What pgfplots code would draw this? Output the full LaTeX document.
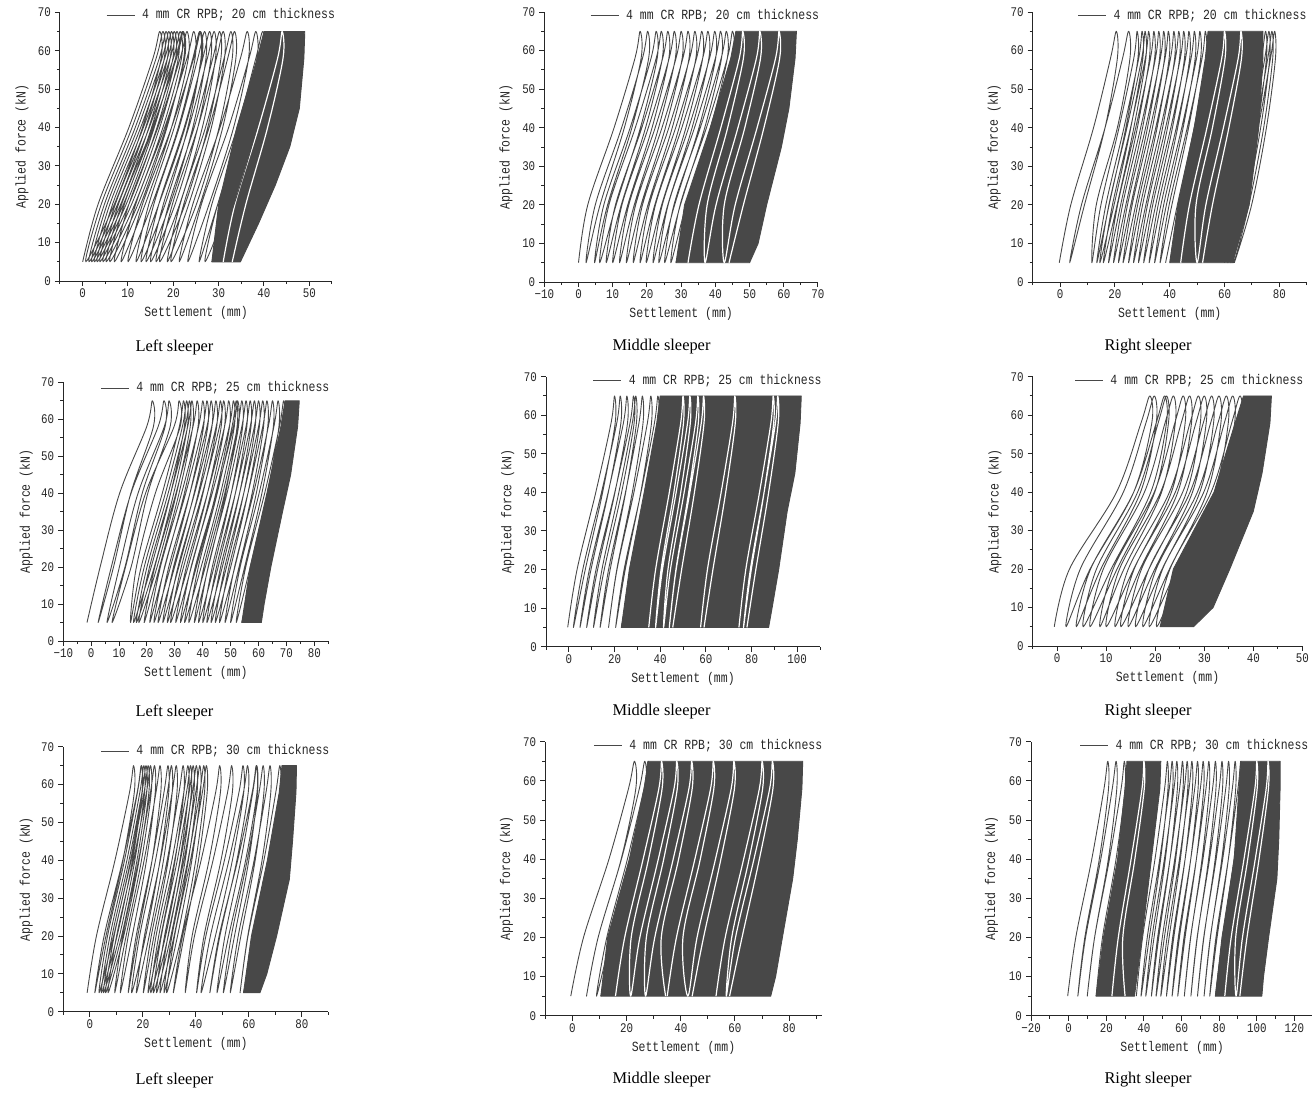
\documentclass[border=0pt]{standalone}
\usepackage{pgfplots}
\pgfplotsset{compat=1.18}
\usepackage{fontspec}
\setmainfont{Liberation Serif}
\newfontfamily\cnfont[FakeStretch=0.82]{Liberation Mono}
\newcommand\lblfont{\cnfont\fontsize{7}{8}\selectfont}
\newcommand\tckfont{\cnfont\fontsize{6.6}{7.5}\selectfont}
\newcommand\capfont{\fontsize{8.2}{9}\selectfont}
\definecolor{lc}{RGB}{72,72,72}
\pgfplotsset{
 panel/.style={
  scale only axis, anchor=south west,
  ymin=0, ymax=70,
  axis x line*=bottom, axis y line*=left,
  axis line style={-, line width=0.5pt, black!85},
  tick align=outside,
  major tick length=2.5pt, minor tick length=1.5pt,
  tick style={black!85, line width=0.5pt},
  ytick={0,10,20,30,40,50,60,70}, yticklabels={0,10,20,30,40,50,60,70},
  minor ytick={5,15,25,35,45,55,65},
  tick label style={font=\tckfont, text=black!85},
  xticklabel style={yshift=2pt},
  yticklabel style={xshift=1.5pt},
  label style={font=\lblfont, text=black!85},
  xlabel={Settlement (mm)}, ylabel={Applied force (kN)},
  xlabel style={at={(axis description cs:0.5,0)}, anchor=center, yshift=-16pt},
  ylabel style={at={(axis description cs:-0.14,0.5)}, anchor=center},
  legend style={draw=none, fill=none, font=\lblfont, text=black!85, anchor=east, inner sep=0pt, outer sep=0pt, nodes={inner sep=0pt}, column sep=3.5pt},
  legend image code/.code={\draw[#1] (0pt,0pt) -- (14pt,0pt);},
  legend cell align=left,
 },
 lp/.style={lc, line width=0.45pt, smooth, tension=0.55, line join=round, forget plot},
 wp/.style={white, line width=0.6pt, smooth, tension=0.55, line join=round, forget plot},
 band/.style={fill=lc, draw=lc, line width=0.45pt, line join=round, forget plot},
}
\begin{document}
\begin{tikzpicture}
\useasboundingbox (0,0) rectangle (656pt,-546.5pt);

% ---------- Row 1, left ----------
\begin{axis}[panel, at={(30pt,-140.5pt)}, width=136pt, height=134.35pt, xmin=-5, xmax=55,
 xtick={0,10,20,30,40,50}, xticklabels={0,10,20,30,40,50}, minor xtick={-5,5,15,25,35,45,55},
 legend style={at={(1.011,0.989)}}]
\addlegendimage{lc, line width=0.45pt}
\addlegendentry{4 mm CR RPB; 20 cm thickness}
\addplot[band] coordinates {(28.5,5)(30,20)(34,40)(38.5,58)(40,65)(49,65)(48.8,58)(47.8,45)(45.7,35)(42.5,25)(38.8,15)(36.8,10)(34.8,5)} --cycle;
\addplot[wp] coordinates {(31,5)(33.6,20)(38.8,40)(43,58)(44,65)(44.2,58)(40.8,40)(36,20)(33,5)};
\addplot[lp] coordinates {
(0,5)(3.4,20)(10.2,40)(15.5,58)(17,65)(17.3,58)(13.2,40)(7,20)
(0.7,5)(4.1,20)(10.9,40)(16.2,58)(17.7,65)(18,58)(13.9,40)(7.7,20)
(1.4,5)(4.8,20)(11.6,40)(16.9,58)(18.4,65)(18.7,58)(14.6,40)(8.4,20)
(2,5)(5.4,20)(12.2,40)(17.5,58)(19,65)(19.3,58)(15.2,40)(9,20)
(2.6,5)(6,20)(12.8,40)(18.1,58)(19.6,65)(19.9,58)(15.8,40)(9.6,20)
(3.2,5)(6.6,20)(13.4,40)(18.7,58)(20.2,65)(20.5,58)(16.4,40)(10.2,20)
(3.8,5)(7.2,20)(14,40)(19.3,58)(20.8,65)(21.1,58)(17,40)(10.8,20)
(4.5,5)(7.9,20)(14.7,40)(20,58)(21.5,65)(21.8,58)(17.7,40)(11.5,20)
(5.2,5)(8.6,20)(15.4,40)(20.7,58)(22.2,65)(22.5,58)(18.4,40)(12.2,20)
(6,5)(9.2,20)(15.6,40)(20.5,58)(22,65)(22.3,58)(18.6,40)(12.8,20)
(7,5)(10.2,20)(16.6,40)(21.5,58)(23,65)(23.3,58)(19.6,40)(13.8,20)
(8.5,5)(11.7,20)(18.1,40)(23,58)(24.5,65)(24.8,58)(21.1,40)(15.3,20)
(10,5)(13.2,20)(19.6,40)(24.5,58)(26,65)(26.3,58)(22.6,40)(16.8,20)
(11.8,5)(14.6,20)(20.2,40)(24.3,58)(25.8,65)(26.1,58)(23.2,40)(18.2,20)
(12.9,5)(15.7,20)(21.3,40)(25.4,58)(26.9,65)(27.2,58)(24.3,40)(19.3,20)
(14,5)(16.8,20)(22.4,40)(26.5,58)(28,65)(28.3,58)(25.4,40)(20.4,20)
(15,5)(17.8,20)(23.4,40)(27.5,58)(29,65)(29.3,58)(26.4,40)(21.4,20)
(16.2,5)(19,20)(24.6,40)(28.7,58)(30.2,65)(30.5,58)(27.6,40)(22.6,20)
(17,5)(19.8,20)(25.4,40)(29.5,58)(31,65)(31.3,58)(28.4,40)(23.4,20)
(18.7,5)(21.5,20)(27.1,40)(31.2,58)(32.7,65)(33,58)(30.1,40)(25.1,20)
(19.5,5)(22.3,20)(27.9,40)(32,58)(33.5,65)(33.8,58)(30.9,40)(25.9,20)
(21.3,5)(24.3,20)(30.3,40)(34.8,58)(36.3,65)(36.6,58)(33.3,40)(27.9,20)
(23.2,5)(26.2,20)(32.2,40)(36.7,58)(38.2,65)(38.5,58)(35.2,40)(29.8,20)
(25.7,5)(28.5,20)(34.1,40)(38.2,58)(39.7,65)(40,58)(37.1,40)(32.1,20)
(27,5)(29.8,20)(35.4,40)(39.5,58)(41,65)(41.3,58)(38.4,40)(33.4,20)
(28.5,5)};
\end{axis}

% ---------- Row 1, middle ----------
\begin{axis}[panel, at={(272.15pt,-141pt)}, width=136.85pt, height=135pt, xmin=-10, xmax=70,
 xtick={-10,0,10,20,30,40,50,60,70}, xticklabels={−10,0,10,20,30,40,50,60,70}, minor xtick={-5,5,15,25,35,45,55,65},
 legend style={at={(1.004,0.986)}}]
\addlegendimage{lc, line width=0.45pt}
\addlegendentry{4 mm CR RPB; 20 cm thickness}
\addplot[band] coordinates {(28.5,5)(31,20)(38.5,40)(44.5,58)(46,65)(63.7,65)(63.3,58)(61.5,45)(59.3,35)(55,20)(52.5,10)(50,5)} --cycle;
\addplot[wp] coordinates {
(32,5)(35.2,20)(41.6,40)(47,58)(48,65)(48.2,58)(43.6,40)(37.6,20)
(37,5)(40.2,20)(46.6,40)(52,58)(53,65)(53.2,58)(48.6,40)(42.6,20)
(42.6,5)(45.8,20)(52.2,40)(57.6,58)(58.6,65)(58.8,58)(54.2,40)(48.2,20)
(44,5)};
\addplot[lp] coordinates {
(0,5)(2.7,20)(10.4,40)(16.5,58)(18,65)(18.3,58)(13.4,40)(6.3,20)
(2.2,5)(4.9,20)(12.6,40)(18.7,58)(20.2,65)(20.5,58)(15.6,40)(8.5,20)
(4.7,5)(7.4,20)(15.1,40)(21.2,58)(22.7,65)(23,58)(18.1,40)(11,20)
(6.2,5)(8.9,20)(16.6,40)(22.7,58)(24.2,65)(24.5,58)(19.6,40)(12.5,20)
(8.1,5)(10.8,20)(18.5,40)(24.6,58)(26.1,65)(26.4,58)(21.5,40)(14.4,20)
(10,5)(12.7,20)(20.4,40)(26.5,58)(28,65)(28.3,58)(23.4,40)(16.3,20)
(12,5)(14.7,20)(22.4,40)(28.5,58)(30,65)(30.3,58)(25.4,40)(18.3,20)
(14,5)(16.7,20)(24.4,40)(30.5,58)(32,65)(32.3,58)(27.4,40)(20.3,20)
(16,5)(18.7,20)(26.4,40)(32.5,58)(34,65)(34.3,58)(29.4,40)(22.3,20)
(18,5)(20.7,20)(28.4,40)(34.5,58)(36,65)(36.3,58)(31.4,40)(24.3,20)
(19.8,5)(22.5,20)(30.2,40)(36.3,58)(37.8,65)(38.1,58)(33.2,40)(26.1,20)
(21.8,5)(24.5,20)(32.2,40)(38.3,58)(39.8,65)(40.1,58)(35.2,40)(28.1,20)
(23.5,5)(26.2,20)(33.9,40)(40,58)(41.5,65)(41.8,58)(36.9,40)(29.8,20)
(25.2,5)(27.9,20)(35.6,40)(41.7,58)(43.2,65)(43.5,58)(38.6,40)(31.5,20)
(27,5)(29.7,20)(37.4,40)(43.5,58)(45,65)(45.3,58)(40.4,40)(33.3,20)
(28.5,5)};
\end{axis}

% ---------- Row 1, right ----------
\begin{axis}[panel, at={(516.35pt,-141pt)}, width=137pt, height=135pt, xmin=-10, xmax=90,
 xtick={0,20,40,60,80}, xticklabels={0,20,40,60,80}, minor xtick={-10,10,30,50,70,90},
 legend style={at={(0.999,0.986)}}]
\addlegendimage{lc, line width=0.45pt}
\addlegendentry{4 mm CR RPB; 20 cm thickness}
\addplot[band] coordinates {(40,5)(43,20)(49,40)(53,58)(54,65)(74,65)(74,58)(72.5,40)(69,20)(63,5)} --cycle;
\addplot[wp] coordinates {
(44,5)(47.2,20)(53.6,40)(59,58)(60,65)(60.2,58)(55.6,40)(49.6,20)
(50,5)(53.2,20)(59.6,40)(65,58)(66,65)(66.2,58)(61.6,40)(55.6,20)
(52,5)};
\addplot[lp] coordinates {
(-0.3,5)(3.9,20)(12.2,40)(18.4,58)(20.5,65)(20.9,58)(16.4,40)(8.9,20)
(3.5,5)(7.8,20)(16.4,40)(22.8,58)(25,65)(25.5,58)(20.9,40)(13.2,20)
(11.6,5)(14.9,20)(21.5,40)(26.9,58)(28.1,65)(28.4,58)(24,40)(17.9,20)
(13.4,5)(16.7,20)(23.3,40)(28.7,58)(29.9,65)(30.2,58)(25.8,40)(19.7,20)
(14.5,5)(17.8,20)(24.4,40)(29.8,58)(31,65)(31.3,58)(26.9,40)(20.8,20)
(15.8,5)(19.1,20)(25.7,40)(31.1,58)(32.3,65)(32.6,58)(28.2,40)(22.1,20)
(17.7,5)(21,20)(27.6,40)(33,58)(34.2,65)(34.5,58)(30.1,40)(24,20)
(19.5,5)(22.8,20)(29.4,40)(34.8,58)(36,65)(36.3,58)(31.9,40)(25.8,20)
(21.3,5)(24.6,20)(31.2,40)(36.6,58)(37.8,65)(38.1,58)(33.7,40)(27.6,20)
(23,5)(26.3,20)(32.9,40)(38.3,58)(39.5,65)(39.8,58)(35.4,40)(29.3,20)
(25,5)(28.3,20)(34.9,40)(40.3,58)(41.5,65)(41.8,58)(37.4,40)(31.3,20)
(26.8,5)(30.1,20)(36.7,40)(42.1,58)(43.3,65)(43.6,58)(39.2,40)(33.1,20)
(28.6,5)(31.9,20)(38.5,40)(43.9,58)(45.1,65)(45.4,58)(41,40)(34.9,20)
(30.5,5)(33.8,20)(40.4,40)(45.8,58)(47,65)(47.3,58)(42.9,40)(36.8,20)
(32.5,5)(35.8,20)(42.4,40)(47.8,58)(49,65)(49.3,58)(44.9,40)(38.8,20)
(34.5,5)(37.8,20)(44.4,40)(49.8,58)(51,65)(51.3,58)(46.9,40)(40.8,20)
(36.5,5)(39.8,20)(46.4,40)(51.8,58)(53,65)(53.3,58)(48.9,40)(42.8,20)
(38.5,5)};
\addplot[lp] coordinates {
(60,5)(63,20)(69,40)(73.5,58)(75,65)(75.3,58)(72,40)(66.6,20)
(61.2,5)(64.2,20)(70.2,40)(74.7,58)(76.2,65)(76.5,58)(73.2,40)(67.8,20)
(62.3,5)(65.3,20)(71.3,40)(75.8,58)(77.3,65)(77.6,58)(74.3,40)(68.9,20)
(63.3,5)(66.3,20)(72.3,40)(76.8,58)(78.3,65)(78.6,58)(75.3,40)(69.9,20)
(63.6,5)};
\end{axis}

% ---------- Row 2, left ----------
\begin{axis}[panel, at={(31.65pt,-320.5pt)}, width=132.5pt, height=129.35pt, xmin=-10, xmax=85,
 xtick={-10,0,10,20,30,40,50,60,70,80}, xticklabels={−10,0,10,20,30,40,50,60,70,80}, minor xtick={-5,5,15,25,35,45,55,65,75,85},
 legend style={at={(1.004,0.978)}}]
\addlegendimage{lc, line width=0.45pt}
\addlegendentry{4 mm CR RPB; 25 cm thickness}
\addplot[band] coordinates {(54,5)(57,20)(63,40)(68,58)(69.5,65)(74.6,65)(74,58)(71.5,45)(68.6,35)(64.4,20)(62,10)(61,5)} --cycle;
\addplot[lp] coordinates {
(-1.5,5)(3.2,20)(10.2,40)(19.9,58)(21.9,65)(22.3,58)(14.2,40)(8,20)
(2.5,5)(7.2,20)(14.3,40)(24,58)(26.1,65)(26.5,58)(18.3,40)(12.1,20)
(5.7,5)(10.1,20)(16.8,40)(26.2,58)(27.9,65)(28.3,58)(20.3,40)(14.3,20)
(7.5,5)(12.3,20)(19.5,40)(29.7,58)(31.5,65)(31.9,58)(23,40)(16.2,20)
(14.1,5)(17.9,20)(25.5,40)(31.6,58)(33.1,65)(33.4,58)(28.5,40)(21.5,20)
(15.2,5)(19,20)(26.6,40)(32.7,58)(34.2,65)(34.5,58)(29.6,40)(22.6,20)
(16.2,5)(20,20)(27.6,40)(33.7,58)(35.2,65)(35.5,58)(30.6,40)(23.6,20)
(17.1,5)(20.9,20)(28.5,40)(34.6,58)(36.1,65)(36.4,58)(31.5,40)(24.5,20)
(19,5)(22.8,20)(30.4,40)(36.5,58)(38,65)(38.3,58)(33.4,40)(26.4,20)
(21,5)(24.8,20)(32.4,40)(38.5,58)(40,65)(40.3,58)(35.4,40)(28.4,20)
(22.5,5)(26.3,20)(33.9,40)(40,58)(41.5,65)(41.8,58)(36.9,40)(29.9,20)
(24,5)(27.8,20)(35.4,40)(41.5,58)(43,65)(43.3,58)(38.4,40)(31.4,20)
(25.7,5)(29.5,20)(37.1,40)(43.2,58)(44.7,65)(45,58)(40.1,40)(33.1,20)
(27.3,5)(31.1,20)(38.7,40)(44.8,58)(46.3,65)(46.6,58)(41.7,40)(34.7,20)
(28.5,5)(32.3,20)(39.9,40)(46,58)(47.5,65)(47.8,58)(42.9,40)(35.9,20)
(30.3,5)(34.1,20)(41.7,40)(47.8,58)(49.3,65)(49.6,58)(44.7,40)(37.7,20)
(32,5)(35.8,20)(43.4,40)(49.5,58)(51,65)(51.3,58)(46.4,40)(39.4,20)
(33.5,5)(37.3,20)(44.9,40)(51,58)(52.5,65)(52.8,58)(47.9,40)(40.9,20)
(35,5)(38.4,20)(45.2,40)(50.5,58)(52,65)(52.3,58)(48.2,40)(42,20)
(37,5)(40.4,20)(47.2,40)(52.5,58)(54,65)(54.3,58)(50.2,40)(44,20)
(38.5,5)(41.9,20)(48.7,40)(54,58)(55.5,65)(55.8,58)(51.7,40)(45.5,20)
(40,5)(43.4,20)(50.2,40)(55.5,58)(57,65)(57.3,58)(53.2,40)(47,20)
(41.5,5)(44.9,20)(51.7,40)(57,58)(58.5,65)(58.8,58)(54.7,40)(48.5,20)
(43,5)(46.4,20)(53.2,40)(58.5,58)(60,65)(60.3,58)(56.2,40)(50,20)
(44.5,5)(47.9,20)(54.7,40)(60,58)(61.5,65)(61.8,58)(57.7,40)(51.5,20)
(46,5)(49.4,20)(56.2,40)(61.5,58)(63,65)(63.3,58)(59.2,40)(53,20)
(48,5)(51.4,20)(58.2,40)(63.5,58)(65,65)(65.3,58)(61.2,40)(55,20)
(50,5)(53.4,20)(60.2,40)(65.5,58)(67,65)(67.3,58)(63.2,40)(57,20)
(52,5)(55.4,20)(62.2,40)(67.5,58)(69,65)(69.3,58)(65.2,40)(59,20)
(54,5)};
\end{axis}

% ---------- Row 2, middle ----------
\begin{axis}[panel, at={(273pt,-323.35pt)}, width=137pt, height=135pt, xmin=-10, xmax=110,
 xtick={0,20,40,60,80,100}, xticklabels={0,20,40,60,80,100}, minor xtick={-10,10,30,50,70,90,110},
 legend style={at={(1.006,0.985)}}]
\addlegendimage{lc, line width=0.45pt}
\addlegendentry{4 mm CR RPB; 25 cm thickness}
\addplot[band] coordinates {(23,5)(26.5,20)(33,40)(38.5,58)(40,65)(101.8,65)(101.3,58)(99,45)(95.6,35)(91.9,20)(89,10)(87.5,5)} --cycle;
\addplot[wp] coordinates {
(35,5)(38,20)(44,40)(49,58)(50,65)(50.2,58)(46,40)(40.4,20)
(38,5)(41,20)(47,40)(52,58)(53,65)(53.2,58)(49,40)(43.4,20)
(41.5,5)(44.5,20)(50.5,40)(55.5,58)(56.5,65)(56.7,58)(52.5,40)(46.9,20)
(44,5)(47,20)(53,40)(58,58)(59,65)(59.2,58)(55,40)(49.4,20)
(45.5,5)};
\addplot[wp] coordinates {(57.7,5)(60.7,20)(66.7,40)(71.7,58)(72.7,65)(72.9,58)(68.7,40)(63.1,20)(59.2,5)};
\addplot[wp] coordinates {
(74.5,5)(77.5,20)(83.5,40)(88.5,58)(89.5,65)(89.7,58)(85.5,40)(79.9,20)
(76.5,5)(79.5,20)(85.5,40)(90.5,58)(91.5,65)(91.7,58)(87.5,40)(81.9,20)
(78,5)};
\addplot[lp] coordinates {
(-0.5,5)(3.6,20)(11.8,40)(18.5,58)(20,65)(20.3,58)(14.8,40)(7.2,20)
(2,5)(6.1,20)(14.3,40)(21,58)(22.5,65)(22.8,58)(17.3,40)(9.7,20)
(4.9,5)(9,20)(17.2,40)(23.9,58)(25.4,65)(25.7,58)(20.2,40)(12.6,20)
(7.8,5)(11.9,20)(20.1,40)(26.8,58)(28.3,65)(28.6,58)(23.1,40)(15.5,20)
(10.8,5)(14.5,20)(21.9,40)(27.8,58)(29.3,65)(29.6,58)(24.9,40)(18.1,20)
(13.7,5)(17.4,20)(24.8,40)(30.7,58)(32.2,65)(32.5,58)(27.8,40)(21,20)
(17.4,5)(21.1,20)(28.5,40)(34.4,58)(35.9,65)(36.2,58)(31.5,40)(24.7,20)
(20.5,5)(24.2,20)(31.6,40)(37.5,58)(39,65)(39.3,58)(34.6,40)(27.8,20)
(23,5)};
\end{axis}

% ---------- Row 2, right ----------
\begin{axis}[panel, at={(516.35pt,-323pt)}, width=134.8pt, height=134.65pt, xmin=-5, xmax=50,
 xtick={0,10,20,30,40,50}, xticklabels={0,10,20,30,40,50}, minor xtick={-5,5,15,25,35,45},
 legend style={at={(1.004,0.985)}}]
\addlegendimage{lc, line width=0.45pt}
\addlegendentry{4 mm CR RPB; 25 cm thickness}
\addplot[band] coordinates {(21,5)(23.7,20)(32,40)(36.3,58)(38,65)(43.7,65)(43.4,58)(41.8,45)(40,35)(35.2,20)(31.8,10)(27.8,5)} --cycle;
\addplot[lp] coordinates {
(-0.6,5)(2.5,20)(12.1,40)(17.1,58)(18.9,65)(19.3,58)(15.6,40)(6.7,20)
(1.8,5)(4.7,20)(13.5,40)(18.1,58)(19.8,65)(20.2,58)(17,40)(8.9,20)
(3.9,5)(6.8,20)(15.6,40)(20.2,58)(21.9,65)(22.3,58)(19.1,40)(11,20)
(5.3,5)(8,20)(16.4,40)(20.6,58)(22.3,65)(22.7,58)(19.9,40)(12.2,20)
(6.7,5)(9.4,20)(17.8,40)(22,58)(23.7,65)(24.1,58)(21.3,40)(13.6,20)
(8.7,5)(11.4,20)(19.8,40)(24,58)(25.7,65)(26.1,58)(23.3,40)(15.6,20)
(10,5)(12.7,20)(21.1,40)(25.3,58)(27,65)(27.4,58)(24.6,40)(16.9,20)
(11.8,5)(14.5,20)(22.9,40)(27.1,58)(28.8,65)(29.2,58)(26.4,40)(18.7,20)
(13,5)(15.7,20)(24.1,40)(28.3,58)(30,65)(30.4,58)(27.6,40)(19.9,20)
(14.5,5)(17.2,20)(25.6,40)(29.8,58)(31.5,65)(31.9,58)(29.1,40)(21.4,20)
(16,5)(18.7,20)(27.1,40)(31.3,58)(33,65)(33.4,58)(30.6,40)(22.9,20)
(17.5,5)(20.2,20)(28.6,40)(32.8,58)(34.5,65)(34.9,58)(32.1,40)(24.4,20)
(18.8,5)(21.5,20)(29.9,40)(34.1,58)(35.8,65)(36.2,58)(33.4,40)(25.7,20)
(20.3,5)(23,20)(31.4,40)(35.6,58)(37.3,65)(37.7,58)(34.9,40)(27.2,20)
(21,5)};
\end{axis}

% ---------- Row 3, left ----------
\begin{axis}[panel, at={(31.65pt,-505.85pt)}, width=132.5pt, height=132.5pt, xmin=-10, xmax=90,
 xtick={0,20,40,60,80}, xticklabels={0,20,40,60,80}, minor xtick={-10,10,30,50,70,90},
 legend style={at={(1.004,0.983)}}]
\addlegendimage{lc, line width=0.45pt}
\addlegendentry{4 mm CR RPB; 30 cm thickness}
\addplot[band] coordinates {(58,5)(61,20)(67,40)(71.5,58)(72.5,65)(78,65)(77.8,58)(76.5,45)(75.3,35)(70.5,20)(66.8,10)(64.2,5)} --cycle;
\addplot[lp] coordinates {
(-1,5)(2.5,20)(9.5,40)(15,58)(16.5,65)(16.8,58)(12.5,40)(6.1,20)
(1.9,5)(5.4,20)(12.4,40)(17.9,58)(19.4,65)(19.7,58)(15.4,40)(9,20)
(3.5,5)(6.7,20)(13.1,40)(18,58)(19.5,65)(19.8,58)(16.1,40)(10.3,20)
(4.4,5)(7.6,20)(14,40)(18.9,58)(20.4,65)(20.7,58)(17,40)(11.2,20)
(5.2,5)(8.4,20)(14.8,40)(19.7,58)(21.2,65)(21.5,58)(17.8,40)(12,20)
(6,5)(9.2,20)(15.6,40)(20.5,58)(22,65)(22.3,58)(18.6,40)(12.8,20)
(6.9,5)(10.1,20)(16.5,40)(21.4,58)(22.9,65)(23.2,58)(19.5,40)(13.7,20)
(9.4,5)(12.4,20)(18.4,40)(22.9,58)(24.4,65)(24.7,58)(21.4,40)(16,20)
(11.5,5)(14.5,20)(20.5,40)(25,58)(26.5,65)(26.8,58)(23.5,40)(18.1,20)
(14.5,5)(17.5,20)(23.5,40)(28,58)(29.5,65)(29.8,58)(26.5,40)(21.1,20)
(15.8,5)(18.8,20)(24.8,40)(29.3,58)(30.8,65)(31.1,58)(27.8,40)(22.4,20)
(17.6,5)(20.6,20)(26.6,40)(31.1,58)(32.6,65)(32.9,58)(29.6,40)(24.2,20)
(20.2,5)(23.2,20)(29.2,40)(33.7,58)(35.2,65)(35.5,58)(32.2,40)(26.8,20)
(22,5)(25,20)(31,40)(35.5,58)(37,65)(37.3,58)(34,40)(28.6,20)
(23,5)(26,20)(32,40)(36.5,58)(38,65)(38.3,58)(35,40)(29.6,20)
(24,5)(27,20)(33,40)(37.5,58)(39,65)(39.3,58)(36,40)(30.6,20)
(25.2,5)(28.2,20)(34.2,40)(38.7,58)(40.2,65)(40.5,58)(37.2,40)(31.8,20)
(26.5,5)(29.5,20)(35.5,40)(40,58)(41.5,65)(41.8,58)(38.5,40)(33.1,20)
(28,5)(31,20)(37,40)(41.5,58)(43,65)(43.3,58)(40,40)(34.6,20)
(29,5)(32,20)(38,40)(42.5,58)(44,65)(44.3,58)(41,40)(35.6,20)
(31.5,5)(35,20)(42,40)(47.5,58)(49,65)(49.3,58)(45,40)(38.6,20)
(36,5)(39.5,20)(46.5,40)(52,58)(53.5,65)(53.8,58)(49.5,40)(43.1,20)
(40.3,5)(43.8,20)(50.8,40)(56.3,58)(57.8,65)(58.1,58)(53.8,40)(47.4,20)
(42,5)(45.5,20)(52.5,40)(58,58)(59.5,65)(59.8,58)(55.5,40)(49.1,20)
(45.3,5)(48.8,20)(55.8,40)(61.3,58)(62.8,65)(63.1,58)(58.8,40)(52.4,20)
(48,5)(51,20)(57,40)(61.5,58)(63,65)(63.3,58)(60,40)(54.6,20)
(50.4,5)(53.4,20)(59.4,40)(63.9,58)(65.4,65)(65.7,58)(62.4,40)(57,20)
(53,5)(56,20)(62,40)(66.5,58)(68,65)(68.3,58)(65,40)(59.6,20)
(56.7,5)(59.7,20)(65.7,40)(70.2,58)(71.7,65)(72,58)(68.7,40)(63.3,20)
(58,5)};
\end{axis}

% ---------- Row 3, middle ----------
\begin{axis}[panel, at={(272.65pt,-507.85pt)}, width=138.2pt, height=137pt, xmin=-10, xmax=92,
 xtick={0,20,40,60,80}, xticklabels={0,20,40,60,80}, minor xtick={-10,10,30,50,70,90},
 legend style={at={(1.002,0.985)}}]
\addlegendimage{lc, line width=0.45pt}
\addlegendentry{4 mm CR RPB; 30 cm thickness}
\addplot[band] coordinates {(10.5,5)(13,20)(21,40)(26.5,58)(28,65)(85,65)(84.7,58)(83,45)(81.3,35)(77.5,20)(75,10)(73.2,5)} --cycle;
\addplot[wp] coordinates {
(15.9,5)(19.3,20)(26.1,40)(31.9,58)(32.9,65)(33.1,58)(28.1,40)(21.7,20)
(21.5,5)(24.9,20)(31.7,40)(37.5,58)(38.5,65)(38.7,58)(33.7,40)(27.3,20)
(27,5)(30.4,20)(37.2,40)(43,58)(44,65)(44.2,58)(39.2,40)(32.8,20)
(34.4,5)};
\addplot[wp] coordinates {
(35,5)(38.4,20)(45.2,40)(51,58)(52,65)(52.2,58)(47.2,40)(40.8,20)
(42.6,5)(46,20)(52.8,40)(58.6,58)(59.6,65)(59.8,58)(54.8,40)(48.4,20)
(44.2,5)};
\addplot[wp] coordinates {
(53,5)(56.4,20)(63.2,40)(69,58)(70,65)(70.2,58)(65.2,40)(58.8,20)
(56.8,5)(60.2,20)(67,40)(72.8,58)(73.8,65)(74,58)(69,40)(62.6,20)
(58,5)};
\addplot[lp] coordinates {
(-0.6,5)(4.1,20)(13.5,40)(20.7,58)(22.9,65)(23.4,58)(18,40)(9.5,20)
(5.2,5)(9.5,20)(18.1,40)(24.7,58)(26.7,65)(27.1,58)(22.1,40)(14.3,20)
(8.9,5)(12.7,20)(20.3,40)(26.4,58)(27.9,65)(28.2,58)(23.3,40)(16.3,20)
(10.5,5)};
\end{axis}

% ---------- Row 3, right ----------
\begin{axis}[panel, at={(515.5pt,-507.85pt)}, width=141.1pt, height=137pt, xmin=-20, xmax=130,
 xtick={-20,0,20,40,60,80,100,120}, xticklabels={−20,0,20,40,60,80,100,120}, minor xtick={-10,10,30,50,70,90,110,130},
 legend style={at={(0.983,0.985)}}]
\addlegendimage{lc, line width=0.45pt}
\addlegendentry{4 mm CR RPB; 30 cm thickness}
\addplot[band] coordinates {(14.6,5)(18.5,20)(26,40)(30,58)(31,65)(49,65)(48.5,58)(44,40)(39,20)(35,5)} --cycle;
\addplot[band] coordinates {(78,5)(81.5,20)(88,40)(90.5,58)(91.5,65)(112.4,65)(112.4,58)(111.7,45)(110.7,35)(106.3,20)(103.6,10)(102.7,5)} --cycle;
\addplot[wp] coordinates {(23,5)(26.4,20)(33.2,40)(39,58)(40,65)(40.2,58)(35.2,40)(28.8,20)(30,5)};
\addplot[wp] coordinates {
(83,5)(86.4,20)(93.2,40)(99,58)(100,65)(100.2,58)(95.2,40)(88.8,20)
(89,5)(92.4,20)(99.2,40)(105,58)(106,65)(106.2,58)(101.2,40)(94.8,20)
(91,5)};
\addplot[lp] coordinates {
(-0.5,5)(3.8,20)(12.3,40)(18.8,58)(20.8,65)(21.2,58)(16.3,40)(8.6,20)
(4.9,5)(9,20)(17.1,40)(23.2,58)(25.2,65)(25.6,58)(21.1,40)(13.8,20)
(9.9,5)(13.8,20)(21.7,40)(27.9,58)(29.6,65)(30,58)(25.2,40)(18,20)
(14.6,5)};
\addplot[lp] coordinates {
(36,5)(39.3,20)(45.9,40)(51,58)(52.5,65)(52.8,58)(48.9,40)(42.9,20)
(38.5,5)(41.8,20)(48.4,40)(53.5,58)(55,65)(55.3,58)(51.4,40)(45.4,20)
(41,5)(44.3,20)(50.9,40)(56,58)(57.5,65)(57.8,58)(53.9,40)(47.9,20)
(44,5)(47.3,20)(53.9,40)(59,58)(60.5,65)(60.8,58)(56.9,40)(50.9,20)
(46.5,5)(49.8,20)(56.4,40)(61.5,58)(63,65)(63.3,58)(59.4,40)(53.4,20)
(49,5)(52.3,20)(58.9,40)(64,58)(65.5,65)(65.8,58)(61.9,40)(55.9,20)
(52,5)(55.3,20)(61.9,40)(67,58)(68.5,65)(68.8,58)(64.9,40)(58.9,20)
(55,5)(58.3,20)(64.9,40)(70,58)(71.5,65)(71.8,58)(67.9,40)(61.9,20)
(58,5)(61.3,20)(67.9,40)(73,58)(74.5,65)(74.8,58)(70.9,40)(64.9,20)
(61.5,5)(64.8,20)(71.4,40)(76.5,58)(78,65)(78.3,58)(74.4,40)(68.4,20)
(65,5)(68.3,20)(74.9,40)(80,58)(81.5,65)(81.8,58)(77.9,40)(71.9,20)
(68.5,5)(71.8,20)(78.4,40)(83.5,58)(85,65)(85.3,58)(81.4,40)(75.4,20)
(72,5)(75.3,20)(81.9,40)(87,58)(88.5,65)(88.8,58)(84.9,40)(78.9,20)
(75,5)(78.3,20)(84.9,40)(90,58)(91.5,65)(91.8,58)(87.9,40)(81.9,20)
(78,5)};
\end{axis}

% ---------- captions ----------
\node[font=\capfont] at (87.25pt,-173.5pt) {Left sleeper};
\node[font=\capfont] at (330.75pt,-173.5pt) {Middle sleeper};
\node[font=\capfont] at (574pt,-173.5pt) {Right sleeper};
\node[font=\capfont] at (87.25pt,-356pt) {Left sleeper};
\node[font=\capfont] at (330.75pt,-356pt) {Middle sleeper};
\node[font=\capfont] at (574pt,-356pt) {Right sleeper};
\node[font=\capfont] at (87.25pt,-540pt) {Left sleeper};
\node[font=\capfont] at (330.75pt,-540pt) {Middle sleeper};
\node[font=\capfont] at (574pt,-540pt) {Right sleeper};
\end{tikzpicture}
\end{document}
